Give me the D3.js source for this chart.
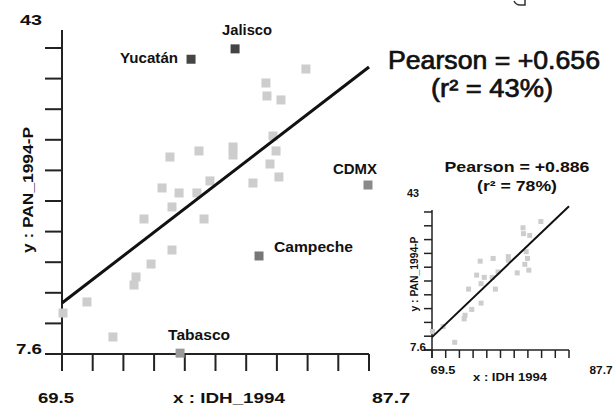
<!DOCTYPE html>
<html lang="es">
  <head>
    <meta charset="UTF-8" />
    <title>PAN 1994 vs IDH 1994</title>
    <style>
      body {
        margin: 0;
        background: #ffffff;
      }
      svg text {
        font-family: "Liberation Sans", Arial, sans-serif;
        fill: #111;
      }
    </style>
    <script src="https://d3js.org/d3.v7.min.js"></script>
  </head>
  <body>
    <svg id="chart"></svg>
    <script>
      // etiquetas de los estados destacados (vacío = sin etiqueta)
      const names = ["Jalisco", "Yucatán", "CDMX", "Campeche", "Tabasco",
        "", "", "", "", "", "", "", "", "", "", "", "", "", "", "", "", "", "", "", "", "", "", "", "", "", "", ""];
      const idh = [79.76, 77.15, 87.64, 81.18, 76.5,
        83.96, 81.59, 81.65, 82.48, 82.01, 77.62, 79.64, 79.64, 82.19, 75.9, 81.83,
        82.36, 78.27, 80.82, 75.43, 76.44, 77.5, 76.02, 74.36, 77.92, 76.02, 74.78,
        73.89, 73.77, 70.98, 69.56, 72.52];
      const pan = [42.9, 41.7, 27.15, 18.94, 7.7,
        40.57, 38.95, 37.45, 36.99, 32.82, 31.09, 31.55, 30.62, 31.09, 30.39, 29.58,
        28.08, 27.62, 27.38, 26.81, 26.23, 26.23, 24.61, 23.22, 23.22, 19.63, 18.01,
        16.51, 15.58, 13.62, 12.34, 9.57];
      const xDomain = [69.5, 87.7];
      const yDomain = [7.6, 43];
      const xTickLabels = ["69.5", "87.7"];
      const yTickLabels = ["7.6", "43"];
      // recta de ajuste (valor de y en los extremos del eje x)
      const fitAll = [13.5, 40.8];
      const fitSub = [10.9, 44.5];
      const pearsonAll = "+0.656", r2All = "43%";
      const pearsonSub = "+0.886", r2Sub = "78%";

      const pointColor = {
        Jalisco: "#444", "Yucatán": "#454545", CDMX: "#8a8a8a",
        Campeche: "#777", Tabasco: "#9a9a9a",
      };
      // [dx, dy, anchor, ancho]
      const labelOffset = {
        Jalisco: [12, -14, "middle", 50], "Yucatán": [-13, 4, "end", 58],
        CDMX: [-13, -11, "middle", 44], Campeche: [15, -4, "start", 79],
        Tabasco: [19, -13, "middle", 62],
      };

      const data = idh.map((v, i) => ({ name: names[i], x: v, y: pan[i] }));

      const width = 615, height = 409;
      const svg = d3.select("#chart").attr("width", width).attr("height", height);

      function panel(g, opt) {
        const x = d3.scaleLinear().domain(xDomain).range(opt.xr);
        const y = d3.scaleLinear().domain(yDomain).range(opt.yr);
        const steps = d3.range(11);
        const xt = steps.map((i) => xDomain[0] + (i * (xDomain[1] - xDomain[0])) / 10);
        const yt = steps.map((i) => yDomain[0] + (i * (yDomain[1] - yDomain[0])) / 10);
        const x0 = opt.xr[0], y0 = opt.yr[0];

        const ax = g.append("g").attr("stroke", "#222").attr("stroke-width", opt.axisW);
        ax.append("line").attr("x1", x0).attr("x2", x0)
          .attr("y1", opt.yr[1] - opt.over).attr("y2", y0 + opt.tick);
        ax.append("line").attr("x1", x0 - opt.tick).attr("x2", opt.xr[1])
          .attr("y1", y0).attr("y2", y0);
        ax.selectAll(".yt").data(yt).join("line")
          .attr("x1", x0 - opt.tick).attr("x2", x0)
          .attr("y1", (d) => y(d)).attr("y2", (d) => y(d));
        ax.selectAll(".xt").data(xt).join("line")
          .attr("x1", (d) => x(d)).attr("x2", (d) => x(d))
          .attr("y1", y0).attr("y2", y0 + opt.tick);

        const pts = opt.sub ? data.filter((d) => !d.name) : data;
        const s = opt.sq;
        g.append("g").selectAll("rect")
          .data(pts.slice().reverse())
          .join("rect")
          .attr("x", (d) => x(d.x) - s / 2)
          .attr("y", (d) => y(d.y) - s / 2)
          .attr("width", s).attr("height", s)
          .attr("fill", (d) => pointColor[d.name] || "#cdcdcd");

        const fit = opt.fit;
        g.append("line")
          .attr("x1", x(xDomain[0])).attr("y1", y(fit[0]))
          .attr("x2", x(xDomain[1])).attr("y2", y(fit[1]))
          .attr("stroke", "#111").attr("stroke-width", opt.lineW);

        return { x, y };
      }

      const txt = (g, x, y, t, size, len, anchor) => {
        const el = g.append("text").attr("x", x).attr("y", y)
          .attr("text-anchor", anchor || "middle")
          .attr("font-size", size).attr("font-weight", "bold").text(t);
        if (len) el.attr("textLength", len).attr("lengthAdjust", "spacingAndGlyphs");
        return el;
      };

      // gráfico principal
      const main = svg.append("g");
      const m = panel(main, {
        xr: [62, 369], yr: [354, 48], over: 18, tick: 17,
        axisW: 2, sq: 9, lineW: 3, fit: fitAll, sub: false,
      });

      main.selectAll(".lab")
        .data(data.filter((d) => d.name))
        .join("text")
        .attr("x", (d) => m.x(d.x) + labelOffset[d.name][0])
        .attr("y", (d) => m.y(d.y) + labelOffset[d.name][1])
        .attr("text-anchor", (d) => labelOffset[d.name][2])
        .attr("textLength", (d) => labelOffset[d.name][3])
        .attr("lengthAdjust", "spacingAndGlyphs")
        .attr("font-size", 15).attr("font-weight", "bold")
        .text((d) => d.name);

      txt(main, 42, 25, yTickLabels[1], 14, 22, "end");
      txt(main, 42, 354, yTickLabels[0], 14, 26, "end");
      txt(main, 56, 403, xTickLabels[0], 14, 36);
      txt(main, 391, 403, xTickLabels[1], 14, 38);
      txt(main, 229, 403, "x : IDH_1994", 15, 112);
      txt(main, 0, 0, "y : PAN_1994-P", 15, 126)
        .attr("transform", "translate(33,190) rotate(-90)");

      txt(main, 494, 69, "Pearson = " + pearsonAll, 25, 212)
        .attr("font-weight", "normal").attr("stroke", "#111").attr("stroke-width", 0.7);
      txt(main, 492, 97, "(r² = " + r2All + ")", 25, 122)
        .attr("font-weight", "normal").attr("stroke", "#111").attr("stroke-width", 0.7);

      // gráfico pequeño sin los estados destacados
      const inset = svg.append("g");
      panel(inset, {
        xr: [432, 569], yr: [350, 212], over: 2, tick: 8,
        axisW: 1.5, sq: 5, lineW: 2, fit: fitSub, sub: true,
      });

      txt(inset, 419, 197, yTickLabels[1], 11, 12, "end");
      txt(inset, 426, 351, yTickLabels[0], 11, 16, "end");
      txt(inset, 443, 374, xTickLabels[0], 11, 25);
      txt(inset, 601, 374, xTickLabels[1], 11, 23);
      txt(inset, 510, 381, "x : IDH 1994", 11, 74);
      txt(inset, 0, 0, "y : PAN_1994-P", 11, 75)
        .attr("transform", "translate(418,274) rotate(-90)");

      txt(inset, 517, 172, "Pearson = " + pearsonSub, 14, 145);
      txt(inset, 517, 191, "(r² = " + r2Sub + ")", 14, 80);

      // trozo de glifo recortado arriba a la derecha
      svg.append("path")
        .attr("d", "M514,1 Q516,5 520,5 L525,5 L525,0")
        .attr("fill", "none").attr("stroke", "#333").attr("stroke-width", 1.5);
    </script>
  </body>
</html>
